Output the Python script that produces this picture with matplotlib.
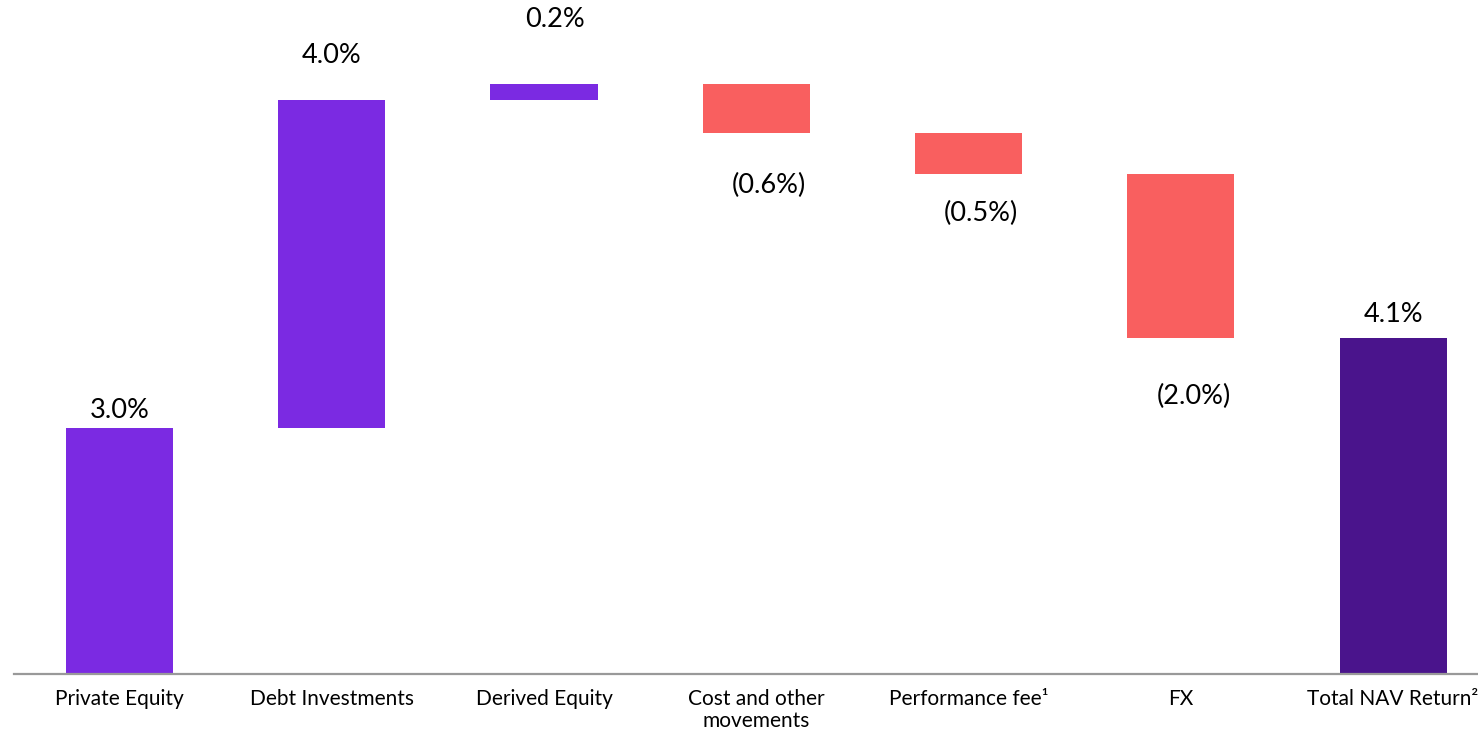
import matplotlib
matplotlib.use("Agg")
import matplotlib.pyplot as plt

# waterfall data (% NAV return contribution)
categories = ["Private Equity", "Debt Investments", "Derived Equity",
              "Cost and other\nmovements", "Performance fee\u00b9", "FX",
              "Total NAV Return\u00b2"]
changes = [3.0, 4.0, 0.2, -0.6, -0.5, -2.0]
total = 4.1
value_labels = ["3.0%", "4.0%", "0.2%", "(0.6%)", "(0.5%)", "(2.0%)", "4.1%"]

# label offsets from the bar end (data units)
label_offsets = [0.21, 0.54, 0.78, -0.64, -0.48, -0.71, 0.29]
label_shift = [0, 0, 0.05, 0.06, 0.06, 0.06, 0]

POS_COLOR = "#7b2ae2"
NEG_COLOR = "#f95f5f"
TOTAL_COLOR = "#4a148c"

plt.rcParams["font.family"] = ["Lato", "DejaVu Sans"]

fig = plt.figure(figsize=(14.78, 7.31), dpi=100)
ax = fig.add_axes([0.0095, 0.078, 0.9905, 0.922])

bottoms = []
heights = []
colors = []
running = 0.0
for c in changes:
    if c >= 0:
        bottoms.append(running)
        colors.append(POS_COLOR)
    else:
        bottoms.append(running + c)
        colors.append(NEG_COLOR)
    heights.append(abs(c))
    running += c
bottoms.append(0)
heights.append(total)
colors.append(TOTAL_COLOR)

x = list(range(len(categories)))
ax.bar(x, heights, bottom=bottoms, width=0.505, color=colors, zorder=2)

for i, lab in enumerate(value_labels):
    if i < len(changes) and changes[i] < 0:
        end = bottoms[i]
    else:
        end = bottoms[i] + heights[i]
    ax.text(i + label_shift[i], end + label_offsets[i], lab, ha="center",
            va="center", fontsize=19.5, color="black")

ax.set_xlim(-0.497, 6.40)
ax.set_ylim(0, 8.22)
ax.set_xticks(x)
ax.set_xticklabels(categories, fontsize=15, linespacing=1.1)
ax.tick_params(axis="x", length=0, pad=11)
ax.set_yticks([])
for s in ["top", "right", "left"]:
    ax.spines[s].set_visible(False)
ax.spines["bottom"].set_color("#999999")
ax.spines["bottom"].set_linewidth(1.6)

fig.savefig("out.png", dpi=100)
